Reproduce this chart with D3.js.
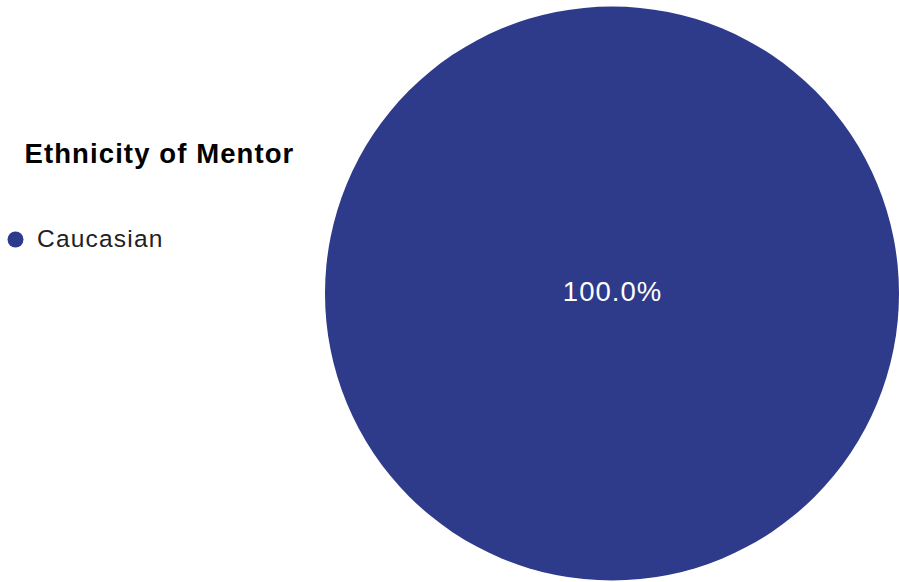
<!DOCTYPE html>
<html>
<head>
<meta charset="utf-8">
<script src="https://cdn.jsdelivr.net/npm/d3@7"></script>
<style>
  html, body { margin: 0; padding: 0; background: #fff; }
  svg { display: block; font-family: "Liberation Sans", Arial, sans-serif; }
</style>
</head>
<body>
<svg id="chart" width="899" height="582"></svg>
<script>
// Mentor ethnicity breakdown
const categories = ["Caucasian"];
const counts = [1];
const colors = ["#2e3a8a"];
const legendTitle = "Ethnicity of Mentor";

const svg = d3.select("#chart");

const cx = 612, cy = 293.5, radius = 287;

const data = categories.map((c, i) => ({ category: c, value: counts[i] }));
const total = d3.sum(counts);

const color = d3.scaleOrdinal().domain(categories).range(colors);

const pie = d3.pie().value(d => d.value).sort(null);
const arc = d3.arc().innerRadius(0).outerRadius(radius);

const g = svg.append("g").attr("transform", `translate(${cx},${cy})`);

const slices = g.selectAll("g.slice")
  .data(pie(data))
  .join("g")
  .attr("class", "slice");

slices.append("path")
  .attr("d", arc)
  .attr("fill", d => color(d.data.category));

// Percentage label: centred for a full circle, otherwise at the arc centroid
const labelArc = d3.arc().innerRadius(radius * 0.5).outerRadius(radius * 0.5);
slices.append("text")
  .attr("transform", d => {
    const full = (d.endAngle - d.startAngle) >= 2 * Math.PI - 1e-6;
    return full ? "translate(0,0)" : `translate(${labelArc.centroid(d)})`;
  })
  .attr("text-anchor", "middle")
  .attr("dx", 0.5)
  .attr("dy", 7.5)
  .attr("fill", "#ffffff")
  .attr("font-size", 27.5)
  .attr("letter-spacing", 1)
  .text(d => (d.data.value / total * 100).toFixed(1) + "%");

// Legend
const legend = svg.append("g");
legend.append("text")
  .attr("x", 24.5)
  .attr("y", 162.5)
  .attr("font-size", 27.5)
  .attr("font-weight", "bold")
  .attr("letter-spacing", 1.1)
  .attr("fill", "#000")
  .text(legendTitle);

const items = legend.selectAll("g.item")
  .data(categories)
  .join("g")
  .attr("class", "item")
  .attr("transform", (d, i) => `translate(0,${239.5 + i * 34})`);

items.append("circle")
  .attr("cx", 15.5)
  .attr("cy", 0)
  .attr("r", 8)
  .attr("fill", d => color(d));

items.append("text")
  .attr("x", 37)
  .attr("y", 7.5)
  .attr("font-size", 24.5)
  .attr("letter-spacing", 1.2)
  .attr("fill", "#222")
  .text(d => d);
</script>
</body>
</html>
